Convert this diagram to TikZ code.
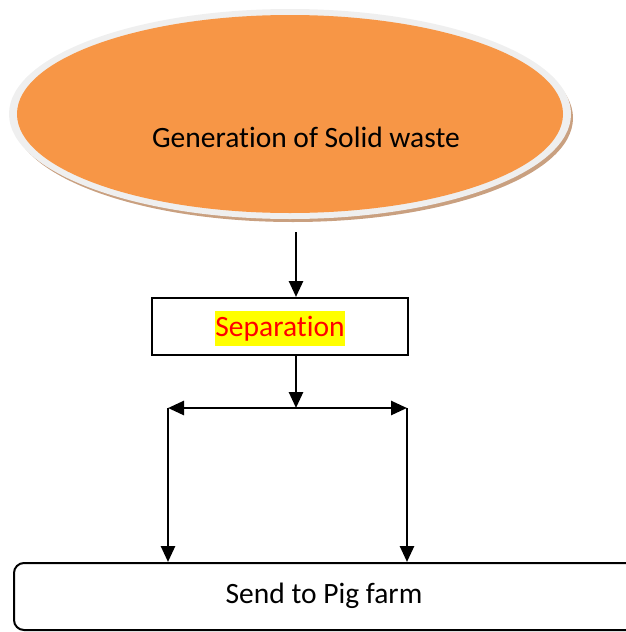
\documentclass[tikz,border=0pt]{standalone}
\usepackage{fontspec}
\setmainfont[Ligatures=NoCommon]{Carlito}
\usetikzlibrary{shapes.geometric,arrows.meta}
\definecolor{orangefill}{HTML}{F79646}
\definecolor{ringgray}{HTML}{EFEFEF}
\definecolor{shadowbrown}{HTML}{C9A080}
\definecolor{hl}{HTML}{FFFF00}
\tikzset{
  arr/.style={line width=2.6pt,-{Triangle[width=14pt,length=16pt]}},
  txt/.style={font=\fontsize{29.5}{34}\selectfont},
}
\begin{document}
\begin{tikzpicture}[x=1pt,y=-1pt]
\useasboundingbox (0,0) rectangle (626,632);
% ellipse with ring and shadow
\fill[shadowbrown] (293,118) ellipse [x radius=280, y radius=104];
\fill[ringgray] (290,114) ellipse [x radius=281, y radius=105];
\node[ellipse,fill=orangefill,minimum width=546pt,minimum height=198pt,inner sep=0pt] (gen) at (290,114) {};
\node[txt] (genlabel) at (306,137) {Generation of Solid waste};
% separation box
\node[draw,line width=2pt,minimum width=256pt,minimum height=57pt,inner sep=0pt] (sep) at (280,326.5) {};
\node[txt,text=red,fill=hl,inner xsep=0pt,inner ysep=1pt,minimum height=35pt] (seplabel) at (280,328.5) {Separation};
% bottom box
\begin{scope}
\clip (0,0) rectangle (626,632);
\node[draw,line width=2pt,rounded corners=10pt,minimum width=626pt,minimum height=67pt,inner sep=0pt] (pig) at (327,596.5) {};
\end{scope}
\node[txt] (piglabel) at (324,596) {Send to Pig farm};
% connectors
\coordinate (a1) at (296,232);
\coordinate (a2) at (296,355);
\coordinate (split) at (296,408);
\coordinate (left) at (168,408);
\coordinate (right) at (407,408);
\draw[arr] (a1) -- (a1 |- sep.north);
\draw[arr] (a2) -- (split);
\draw[arr] (split) -- (left);
\draw[arr] (split) -- (right);
\draw[arr] (left) -- (left |- pig.north);
\draw[arr] (right) -- (right |- pig.north);
\end{tikzpicture}
\end{document}
